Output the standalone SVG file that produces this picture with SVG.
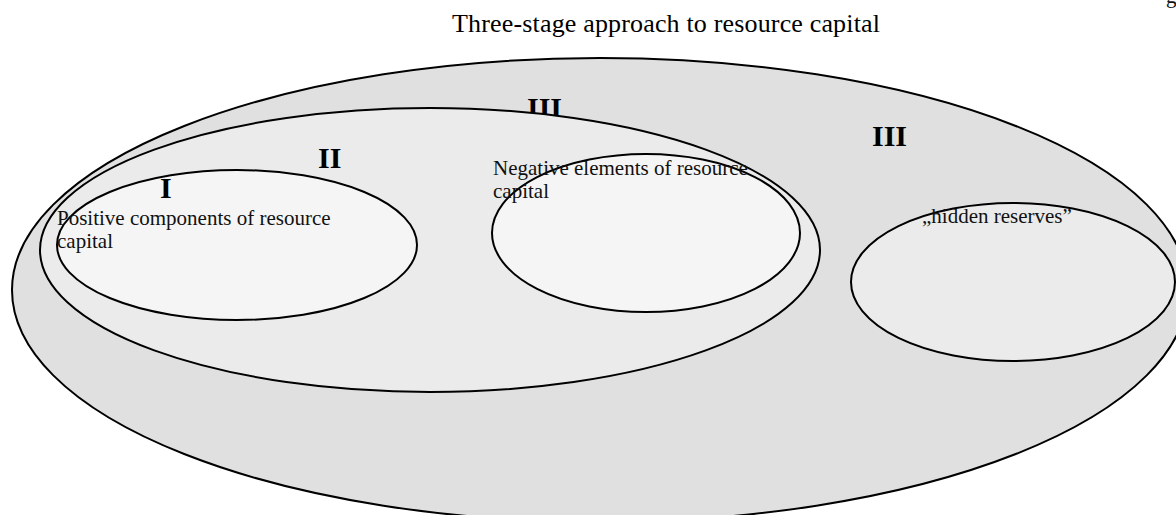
<svg xmlns="http://www.w3.org/2000/svg" width="1176" height="515" viewBox="0 0 1176 515">
<style>
.e{stroke:#000;stroke-width:2}
.t{font-family:"Liberation Serif","Times New Roman",serif;font-size:21px;fill:#111}
.n{font-family:"Liberation Serif","Times New Roman",serif;font-size:30px;font-weight:bold;fill:#000}
.h{font-family:"Liberation Serif","Times New Roman",serif;font-size:26px;fill:#000}
</style>
<rect width="1176" height="515" fill="#fff"/>
<text class="h" x="452" y="32" textLength="428">Three-stage approach to resource capital</text>
<text class="t" x="1166" y="3">g</text>
<g id="stage3">
<ellipse class="e" cx="600" cy="290" rx="588" ry="232" fill="#e0e0e0"/>
<text class="n" x="527" y="118">III</text>
<text class="n" x="872" y="146">III</text>
</g>
<g id="stage2">
<ellipse class="e" cx="430" cy="250" rx="390" ry="142" fill="#ebebeb"/>
<text class="n" x="318" y="168">II</text>
</g>
<g id="positive">
<ellipse class="e" cx="237" cy="245" rx="180" ry="75" fill="#f5f5f5"/>
<text class="n" x="160" y="198">I</text>
<text class="t" x="57" y="225">Positive components of resource</text>
<text class="t" x="57" y="248">capital</text>
</g>
<g id="negative">
<ellipse class="e" cx="646" cy="233" rx="154" ry="79" fill="#f5f5f5"/>
<text class="t" x="493" y="175">Negative elements of resource</text>
<text class="t" x="493" y="198">capital</text>
</g>
<g id="hidden">
<ellipse class="e" cx="1013" cy="282" rx="162" ry="79" fill="#ebebeb"/>
<text class="t" x="922" y="223">„hidden reserves”</text>
</g>
<g id="connectors"/>
</svg>
